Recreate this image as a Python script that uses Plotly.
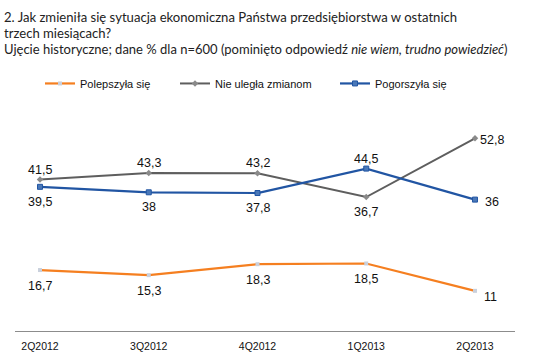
import plotly.graph_objects as go

categories = ["2Q2012", "3Q2012", "4Q2012", "1Q2013", "2Q2013"]
polepszyla = [16.7, 15.3, 18.3, 18.5, 11]
nie_ulegla = [41.5, 43.3, 43.2, 36.7, 52.8]
pogorszyla = [39.5, 38, 37.8, 44.5, 36]
series_names = ["Polepszyła się", "Nie uległa zmianom", "Pogorszyła się"]

ORANGE = "#F57F20"
GRAY = "#5E5E5E"
BLUE = "#2155A3"

def fmt(v):
    return f"{v:g}".replace(".", ",")

fig = go.Figure()
fig.add_trace(go.Scatter(x=categories, y=polepszyla, name=series_names[0], mode="lines+markers",
                         legend="legend",
                         line=dict(color=ORANGE, width=2.2),
                         marker=dict(symbol="square", size=4, color="#C9D0DC", line=dict(width=0))))
fig.add_trace(go.Scatter(x=categories, y=nie_ulegla, name=series_names[1], mode="lines+markers",
                         legend="legend2",
                         line=dict(color=GRAY, width=2),
                         marker=dict(symbol="diamond", size=5, color="#8A8A8A", line=dict(width=0))))
fig.add_trace(go.Scatter(x=categories, y=pogorszyla, name=series_names[2], mode="lines+markers",
                         legend="legend3",
                         line=dict(color=BLUE, width=2.2),
                         marker=dict(symbol="square", size=5, color="#4A78B8", line=dict(color=BLUE, width=1))))

lab_font = dict(family="Liberation Sans, Arial", size=12.5, color="#111111")
annots = []
gray_pos = ["above", "above", "above", "below", "right"]
blue_pos = ["below", "below", "below", "above", "right"]
orange_pos = ["below", "below", "below", "below", "rightbelow"]

def add_labels(vals, poss, above_shift=11, below_shift=-15):
    for c, v, p in zip(categories, vals, poss):
        xs, ys = 0, 0
        if p == "above":
            ys = above_shift
        elif p == "below":
            ys = below_shift
        elif p == "right":
            xs, ys = 17, -2
        elif p == "rightbelow":
            xs, ys = 16, -6
        annots.append(dict(x=c, y=v, xref="x", yref="y", text=fmt(v), showarrow=False,
                           xshift=xs, yshift=ys, font=lab_font))

add_labels(nie_ulegla, gray_pos, above_shift=10, below_shift=-15)
add_labels(pogorszyla, blue_pos, above_shift=10, below_shift=-15)
add_labels(polepszyla, orange_pos, below_shift=-16)

PH = 219.4
title_font = dict(family="Lato, Open Sans, sans-serif", size=13.1, color="#222222")
annots.append(dict(xref="paper", yref="paper", x=-0.026, y=(331 - 16) / PH,
                   xanchor="left", yanchor="middle", showarrow=False,
                   text="2. Jak zmieniła się sytuacja ekonomiczna Państwa przedsiębiorstwa w ostatnich",
                   font=title_font))
annots.append(dict(xref="paper", yref="paper", x=-0.026, y=(331 - 32) / PH,
                   xanchor="left", yanchor="middle", showarrow=False,
                   text="trzech miesiącach?", font=title_font))
annots.append(dict(xref="paper", yref="paper", x=-0.026, y=(331 - 48) / PH,
                   xanchor="left", yanchor="middle", showarrow=False,
                   text="Ujęcie historyczne; dane % dla n=600 (pominięto odpowiedź <i>nie wiem, trudno powiedzieć</i>)",
                   font=dict(family="Lato, Open Sans, sans-serif", size=13, color="#222222")))

leg_font = dict(family="Liberation Sans, Arial", size=11, color="#111111")
def leg(xp):
    return dict(orientation="h", x=xp, y=(331 - 83) / PH, xanchor="left", yanchor="middle",
                font=leg_font, itemwidth=30, bgcolor="rgba(0,0,0,0)")

fig.update_layout(
    width=555, height=360,
    margin=dict(l=15, r=40, t=111.6, b=29, autoexpand=False),
    paper_bgcolor="white", plot_bgcolor="white",
    showlegend=True,
    legend=leg(0.050), legend2=leg(0.320), legend3=leg(0.640),
    annotations=annots,
)
fig.update_xaxes(type="category", range=[-0.23, 4.368], showgrid=False, zeroline=False,
                 showline=True, linecolor="#8C8C8C", linewidth=1.3, ticks="",
                 tickfont=dict(family="Liberation Sans, Arial", size=10.5, color="#111111"),
                 ticklabelstandoff=5)
fig.update_yaxes(range=[0, 60], visible=False, showgrid=False, zeroline=False)

fig.write_html("out.html", config={"displayModeBar": False},
               post_script="document.body.style.margin='0';")
